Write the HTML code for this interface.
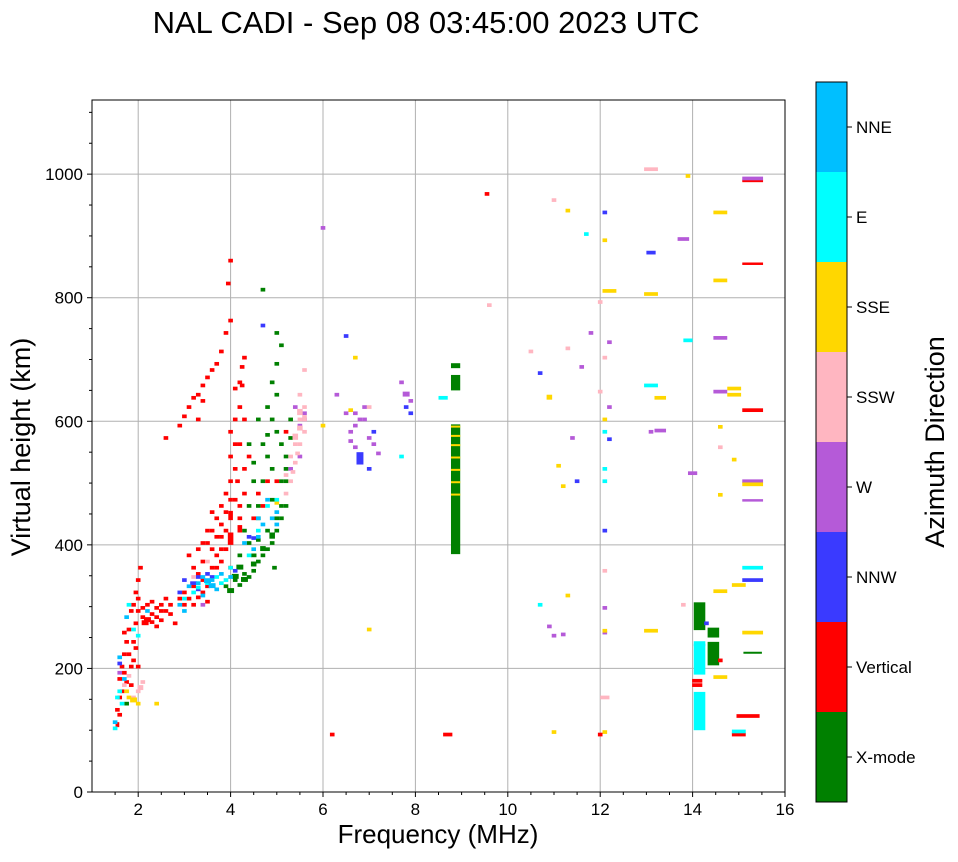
<!DOCTYPE html>
<html><head><meta charset="utf-8">
<style>
html,body{margin:0;padding:0;background:#fff;}
body{width:958px;height:857px;overflow:hidden;font-family:"Liberation Sans","DejaVu Sans",sans-serif;}
svg text{font-family:"Liberation Sans","DejaVu Sans",sans-serif;}
</style></head>
<body>
<svg id="chart" width="958" height="857" viewBox="0 0 958 857" xmlns="http://www.w3.org/2000/svg">
<text x="426" y="33" text-anchor="middle" font-size="31" fill="#000">NAL CADI - Sep 08 03:45:00 2023 UTC</text>
<g id="grid"></g>
<g id="marks"></g>
<rect x="92" y="100" width="693" height="692" fill="none" stroke="#000" stroke-width="1"/>
<g id="axes"></g>
<text x="438" y="843" text-anchor="middle" font-size="26">Frequency (MHz)</text>
<text transform="translate(30,447) rotate(-90)" text-anchor="middle" font-size="27">Virtual height (km)</text>
<g id="cbar"></g>
<text transform="translate(944,442) rotate(-90)" text-anchor="middle" font-size="27">Azimuth Direction</text>
</svg>
<script>
// data: [freq MHz, height km, widthMHz(optional), depthKm(optional)]
const directionNames = ["X-mode","Vertical","NNW","W","SSW","SSE","E","NNE"];
const directionColors = ["#008000","#ff0000","#3a3aff","#b55ad8","#ffb6c1","#ffd700","#00ffff","#00bfff"];
const xTicks = [2,4,6,8,10,12,14,16];
const yTicks = [0,200,400,600,800,1000];

const xmodePoints = [[3.9,330],[4.1,340],[4.2,332],[4.3,350],[4.4,345],[4.5,355],[4.6,370],[4.7,380],[4.8,390],[4.9,400],[5.0,420],[5.1,440],[5.2,460],[4.0,322,0.15,8],[4.4,460],[4.5,500],[4.7,560],[4.9,600],[5.0,640],[5.0,690],[5.1,720],[4.7,810],[4.6,600],[4.8,540],[4.9,520],[5.1,500],[4.4,560],[4.3,420],[4.6,460],[4.2,360,0.15,8],[4.5,380,0.12,6],[4.8,420],[5.2,540],[5.3,570],[4.9,470],[4.6,405],
[4.1,345,0.15,8],[4.3,340,0.15,8],[4.5,365,0.12,8],[4.7,390,0.12,8],[4.9,410,0.12,10],[5.0,440],[5.1,460],[5.2,520],[5.3,600],[5.0,580],[4.8,620],[4.9,660],[5.0,740],[4.6,440],[4.4,400],[4.2,380],[4.7,500],[4.5,530],[5.1,560],[4.8,575],[5.2,500],[4.95,360],
[8.87,385,0.2,210],[8.87,650,0.2,25],[8.87,686,0.2,8],[14.15,262,0.25,45],[14.45,205,0.25,38],[14.45,250,0.25,16],[1.75,140],[15.3,225,0.4,2]];
const verticalPoints = [[1.55,130],[1.6,150],[1.6,180],[1.65,200],[1.7,220],[1.75,240],[1.6,122],[1.8,260],[1.85,290],[1.9,300],[1.95,320],[2.0,340],[2.05,360],[2.0,310],[1.9,210],[2.0,200],[1.85,170],[1.7,255],[1.95,270],[1.7,190],[1.8,220],[1.65,160],[1.9,240],[2.0,290],[1.55,105,0.08,8],[1.75,175],[1.85,200],[1.95,230],
[2.1,280],[2.2,275,0.15,8],[2.3,285],[2.4,280],[2.5,275],[2.6,290],[2.2,300],[2.4,295],[2.7,300],[2.8,270],[2.9,310],[2.6,310],[2.3,272],[2.5,290],[2.1,295],[2.3,305],[2.5,300],[2.7,285],[2.15,270,0.15,8],[2.4,265],
[3.0,320],[3.2,330],[3.3,350],[3.4,370],[3.5,400],[3.6,420],[3.7,440],[3.8,460],[3.9,480],[4.0,500],[4.1,520],[4.2,560],[4.0,540],[4.1,600],[3.5,305],[3.3,312],[3.7,360],[3.8,390],[3.9,420],[4.2,460],[4.3,480],[4.2,620],[4.2,660],[4.3,700],[3.1,380],[3.2,360],[3.4,340],[3.6,390],[4.0,440,0.1,15],[4.2,420,0.1,12],[3.8,430],[4.15,500],[4.0,580],
[3.0,300],[3.1,310],[3.2,300],[3.4,320],[3.5,330],[3.6,360],[3.7,380],[3.8,410],[3.9,450],[4.0,470],[4.0,400,0.12,20],[4.2,440],[4.3,520],[4.1,470],[3.5,420],[3.6,450],[3.4,400],[3.3,390],[3.7,410],[4.0,360],[3.9,390],[3.8,370],[4.3,600],[4.4,540],[4.1,560],
[2.9,590],[3.0,605],[3.1,620],[3.2,635],[3.3,640],[3.4,655],[3.5,668],[3.6,680],[3.7,690],[3.8,710],[3.9,740],[4.0,760],[3.95,820],[4.0,857],[2.6,570],[3.4,630],[4.1,650],[3.3,600],[4.25,685],[4.25,655],
[6.2,90],[8.7,90,0.2],[9.55,965],[12.0,90],[15.0,90,0.3],[15.2,120,0.5],[15.3,615,0.45],[15.3,853,0.45,4],[15.3,987,0.45,4],[14.1,170,0.22],[14.1,177,0.22],[14.6,210],[4.6,480],[4.8,500],[5.0,500],[5.2,580],[4.5,440],[4.7,460]];
const nnwPoints = [[3.3,345],[3.5,350],[4.1,355],[2.9,320],[6.8,530,0.15,20],[7.0,520],[7.1,580],[7.8,620],[7.9,610],[12.1,935],[12.2,568],[12.1,420],[15.3,340,0.45],[13.1,870,0.2],[14.3,270],[4.7,752],[6.5,735],[11.5,500],[10.7,675],[3.2,335,0.15,6],[3.6,345],[1.6,205],[4.5,408],[3.3,325],[3.0,340],[4.4,410]];
const wPoints = [[6.6,580],[6.7,590],[6.8,600],[6.9,620],[6.6,565],[6.7,555],[7.0,570],[7.1,560],[7.2,545],[6.9,600],[7.7,660],[7.9,630],[6.5,610],[6.3,640],[6.0,910],[11.6,685],[12.2,725],[12.2,620],[11.4,570],[11.0,250],[12.1,295],[15.3,500,0.45],[15.3,470,0.45,4],[15.3,990,0.45],[14.6,732,0.3,6],[14.6,645,0.3],[13.8,892,0.25],[13.3,582,0.25],[13.1,580],[11.2,252],[14.0,513,0.2],[11.8,740],[12.1,255],[10.9,265],[5.5,590],[5.6,610],[5.3,520],[3.4,300],[1.6,190],[5.4,620],[5.5,540],[5.6,600],[7.8,640,0.15,8],[6.7,610]];
const sswPoints = [[5.3,500],[5.4,530],[5.5,560],[5.6,580],[5.5,600],[5.6,620],[5.4,560],[5.2,480],[5.5,640],[5.6,680],[5.45,545],[5.35,515],[5.5,585,0.12,8],[5.4,570,0.12,10],[5.5,610,0.12,10],[5.3,540],[5.2,510],[5.6,600,0.1,10],[2.0,160],[2.1,175],[1.9,150],[2.05,165,0.12,8],[1.7,170],[1.8,185],[12.1,150,0.2],[12.0,645],[12.0,790],[11.0,955],[13.1,1005,0.3],[12.1,700],[10.5,710],[11.3,715],[13.8,300],[12.1,355],[14.6,555],[9.6,785],[7.0,620],[3.5,370],[3.2,345]];
const ssePoints = [[1.9,145,0.15,8],[2.0,140],[1.8,150],[2.4,140],[7.0,260],[6.6,615],[8.87,520,0.2,3],[8.87,540,0.2,3],[8.87,560,0.2,3],[8.87,575,0.2,3],[8.87,590,0.2,3],[8.87,500,0.2,3],[8.87,480,0.2,3],[12.2,808,0.3],[13.1,803,0.3],[12.1,600],[12.1,258],[13.1,258,0.3],[13.3,635,0.25],[14.6,935,0.3],[14.6,825,0.3],[14.6,588],[14.6,478],[14.6,322,0.3],[14.6,183,0.3,6],[14.9,650,0.3],[14.9,640,0.3],[14.9,535],[15.0,332,0.3],[15.3,495,0.45],[15.3,255,0.45],[10.9,635,0.12,8],[11.0,94],[11.2,492],[11.3,315],[11.3,938],[13.9,994],[11.1,525],[6.0,590],[5.0,465],[6.7,700],[12.1,890],[12.1,94],[1.75,160]];
const ePoints = [[1.5,100],[1.6,160],[1.8,300],[2.0,250],[3.0,310],[3.2,320],[3.5,335],[3.7,345],[3.9,340],[4.0,360],[4.4,380],[4.6,420],[4.8,460],[5.0,470],[14.15,100,0.25,62],[14.15,190,0.25,50],[14.15,236,0.25,8],[15.3,360,0.45],[15.0,95,0.3],[12.1,500],[12.1,520],[10.7,300],[11.7,900],[13.1,655,0.3],[13.9,728,0.2],[7.7,540],[8.6,635,0.2],[12.1,580],[1.55,150],[3.3,328],[1.65,140],[1.9,260],[3.8,335]];
const nnePoints = [[1.5,110],[1.7,180],[2.2,290],[2.9,300],[3.1,330],[3.3,335],[3.6,340],[3.8,350],[4.0,345],[3.4,315],[3.7,325],[4.3,400],[4.5,390],[4.6,410],[4.9,440],[5.0,430],[1.75,280],[3.0,290],[3.5,338,0.15,8],[4.7,430],[3.6,330,0.15,8],[3.4,345],[4.6,440],[5.0,450],[4.8,470],[1.6,215]];
const seriesList = [xmodePoints,verticalPoints,nnwPoints,wPoints,sswPoints,ssePoints,ePoints,nnePoints];

const X0=92, X1=785, Y0=792, Y1=100, FMIN=1, FMAX=16, HMIN=0, HMAX=1120;
function xs(f){return X0+(f-FMIN)/(FMAX-FMIN)*(X1-X0);}
function ys(h){return Y0-(h-HMIN)/(HMAX-HMIN)*(Y0-Y1);}
const NS="http://www.w3.org/2000/svg";
function mk(tag,attrs,parent){const e=document.createElementNS(NS,tag);for(const k in attrs)e.setAttribute(k,attrs[k]);parent.appendChild(e);return e;}

const grid=document.getElementById('grid'), axes=document.getElementById('axes'), marks=document.getElementById('marks'), cbar=document.getElementById('cbar');
xTicks.forEach(t=>{
  if(t<FMAX){const g=mk('line',{x1:xs(t),x2:xs(t),y1:Y1,y2:Y0,stroke:'#b0b0b0','stroke-width':1},grid);
  
  }
  const tk=mk('line',{x1:xs(t),x2:xs(t),y1:Y0,y2:Y0+5,stroke:'#000'},axes);
  
  
  const lb=mk('text',{x:xs(t),y:Y0+23,'text-anchor':'middle','font-size':17},axes);lb.textContent=t;
  
  
});
for(let m=1.5;m<FMAX;m+=0.5){if(m%2===0)continue;mk('line',{x1:xs(m),x2:xs(m),y1:Y0,y2:Y0+3,stroke:'#000'},axes);}
yTicks.forEach(t=>{
  if(t>0){const g=mk('line',{x1:X0,x2:X1,y1:ys(t),y2:ys(t),stroke:'#b0b0b0','stroke-width':1},grid);
  
  }
  mk('line',{x1:X0-5,x2:X0,y1:ys(t),y2:ys(t),stroke:'#000'},axes);
  const lb=mk('text',{x:X0-9,y:ys(t)+6,'text-anchor':'end','font-size':17},axes);lb.textContent=t;
  
  
});
for(let m=50;m<HMAX;m+=50){if(m%200===0)continue;mk('line',{x1:X0-3,x2:X0,y1:ys(m),y2:ys(m),stroke:'#000'},axes);}

seriesList.forEach((pts,si)=>{
  pts.forEach(p=>{
    const w=p[2]||0.1, d=p[3]||6;
    const r=mk('rect',{x:xs(p[0]-w/2),y:ys(p[1]+d),width:xs(p[0]+w/2)-xs(p[0]-w/2),height:Math.max(2,ys(p[1])-ys(p[1]+d)),fill:directionColors[si]},marks);
    
    
  });
});

const CB0=816, CBW=31, CBT=82, CBB=802, seg=(CBB-CBT)/directionNames.length;
directionNames.forEach((n,i)=>{
  const y=CBB-(i+1)*seg;
  const r=mk('rect',{x:CB0,y:y,width:CBW,height:seg,fill:directionColors[i]},cbar);
  
  
  mk('line',{x1:CB0+CBW,x2:CB0+CBW+5,y1:y+seg/2,y2:y+seg/2,stroke:'#000'},cbar);
  const lb=mk('text',{x:CB0+CBW+9,y:y+seg/2+6,'font-size':17},cbar);lb.textContent=n;
  
  
});
mk('rect',{x:CB0,y:CBT,width:CBW,height:CBB-CBT,fill:'none',stroke:'#000'},cbar);
</script>
</body></html>
